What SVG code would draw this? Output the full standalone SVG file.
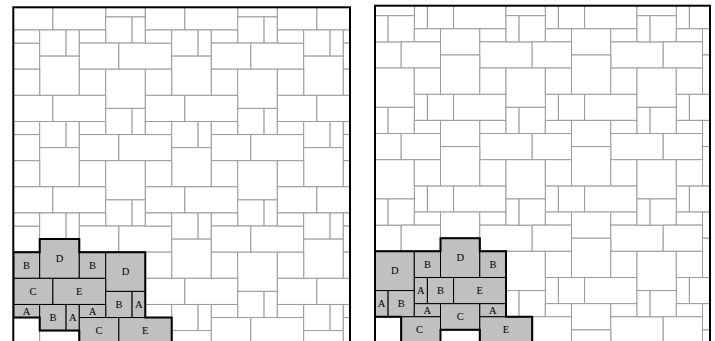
<svg xmlns="http://www.w3.org/2000/svg" xmlns:xlink="http://www.w3.org/1999/xlink" width="715" height="341" viewBox="0 0 715 341">
<style>
.t{fill:#fff;stroke:#9a9a9a;stroke-width:1;vector-effect:non-scaling-stroke}
.h{fill:#c0c0c0;stroke:#000;stroke-width:1;vector-effect:non-scaling-stroke}
.o{fill:none;stroke:#000;stroke-width:2;vector-effect:non-scaling-stroke}
.frame{fill:none;stroke:#000;stroke-width:2}
text{font-family:"Liberation Serif","Times New Roman",serif;font-size:10.5px;text-anchor:middle;fill:#000}
</style>
<defs>
<clipPath id="clipL"><rect x="13.3" y="7.3" width="336.7" height="345"/></clipPath>
<clipPath id="clipR"><rect x="375" y="5.7" width="335" height="345"/></clipPath>
<g id="cellL">
<rect class="t" x="0" y="0" width="2" height="1"/>
<rect class="t" x="2" y="0" width="2" height="2"/>
<rect class="t" x="4" y="0" width="1" height="2"/>
<rect class="t" x="5" y="0" width="2" height="1"/>
<rect class="t" x="2" y="2" width="3" height="3"/>
<rect class="t" x="5" y="1" width="3" height="2"/>
<rect class="t" x="8" y="1" width="4" height="2"/>
<rect class="t" x="0" y="3" width="2" height="2"/>
<rect class="t" x="5" y="3" width="2" height="2"/>
<rect class="t" x="7" y="3" width="3" height="3"/>
<rect class="t" x="0" y="5" width="3" height="2"/>
<rect class="t" x="3" y="5" width="4" height="2"/>
<rect class="t" x="7" y="6" width="2" height="2"/>
<rect class="t" x="9" y="6" width="1" height="2"/>
</g>
<g id="cellR">
<rect class="t" x="0" y="0" width="1" height="2"/>
<rect class="t" x="1" y="0" width="2" height="2"/>
<rect class="t" x="3" y="6" width="1" height="2"/>
<rect class="t" x="4" y="6" width="2" height="2"/>
<rect class="t" x="6" y="6" width="4" height="2"/>
<rect class="t" x="3" y="1" width="2" height="1"/>
<rect class="t" x="5" y="1" width="3" height="2"/>
<rect class="t" x="8" y="1" width="2" height="1"/>
<rect class="t" x="8" y="2" width="4" height="2"/>
<rect class="t" x="2" y="2" width="3" height="2"/>
<rect class="t" x="0" y="4" width="3" height="3"/>
<rect class="t" x="3" y="4" width="2" height="2"/>
<rect class="t" x="5" y="3" width="3" height="3"/>
<rect class="t" x="8" y="4" width="2" height="2"/>
</g>
</defs>
<rect x="0" y="0" width="715" height="341" fill="#fff"/>

<g id="left-panel">
<g clip-path="url(#clipL)">
<g transform="translate(13.3 30) scale(13.2 13.07)">
<use href="#cellL" x="-10" y="-7"/><use href="#cellL" x="0" y="-7"/><use href="#cellL" x="10" y="-7"/><use href="#cellL" x="20" y="-7"/>
<use href="#cellL" x="-10" y="0"/><use href="#cellL" x="0" y="0"/><use href="#cellL" x="10" y="0"/><use href="#cellL" x="20" y="0"/>
<use href="#cellL" x="-10" y="7"/><use href="#cellL" x="0" y="7"/><use href="#cellL" x="10" y="7"/><use href="#cellL" x="20" y="7"/>
<use href="#cellL" x="-10" y="14"/><use href="#cellL" x="0" y="14"/><use href="#cellL" x="10" y="14"/><use href="#cellL" x="20" y="14"/>
<use href="#cellL" x="-10" y="21"/><use href="#cellL" x="0" y="21"/><use href="#cellL" x="10" y="21"/><use href="#cellL" x="20" y="21"/>
<g id="left-cluster">
<rect class="h" x="0" y="17" width="2" height="2"/>
<rect class="h" x="2" y="16" width="3" height="3"/>
<rect class="h" x="5" y="17" width="2" height="2"/>
<rect class="h" x="7" y="17" width="3" height="3"/>
<rect class="h" x="0" y="19" width="3" height="2"/>
<rect class="h" x="3" y="19" width="4" height="2"/>
<rect class="h" x="7" y="20" width="2" height="2"/>
<rect class="h" x="9" y="20" width="1" height="2"/>
<rect class="h" x="0" y="21" width="2" height="1"/>
<rect class="h" x="2" y="21" width="2" height="2"/>
<rect class="h" x="4" y="21" width="1" height="2"/>
<rect class="h" x="5" y="21" width="2" height="1"/>
<rect class="h" x="5" y="22" width="3" height="2"/>
<rect class="h" x="8" y="22" width="4" height="2"/>
<polygon class="o" points="0,17 2,17 2,16 5,16 5,17 10,17 10,22 12,22 12,24 5,24 5,23 2,23 2,22 0,22"/>
</g>
</g>
</g>
<rect class="frame" x="13.3" y="7.3" width="336.7" height="345"/>
<g id="left-labels">
<text x="26.5" y="268.8">B</text>
<text x="59.5" y="262.2">D</text>
<text x="92.5" y="268.8">B</text>
<text x="125.5" y="275.3">D</text>
<text x="33.1" y="294.9">C</text>
<text x="79.3" y="294.9">E</text>
<text x="118.9" y="308">B</text>
<text x="138.7" y="308">A</text>
<text x="26.5" y="314.5">A</text>
<text x="52.9" y="321">B</text>
<text x="72.7" y="321">A</text>
<text x="92.5" y="314.5">A</text>
<text x="99.1" y="334.1">C</text>
<text x="145.3" y="334.1">E</text>
</g>
</g>

<g id="right-panel">
<g clip-path="url(#clipR)">
<g transform="translate(375 15.7) scale(13.1 13.09)">
<use href="#cellR" x="-10" y="-7"/><use href="#cellR" x="0" y="-7"/><use href="#cellR" x="10" y="-7"/><use href="#cellR" x="20" y="-7"/>
<use href="#cellR" x="-10" y="0"/><use href="#cellR" x="0" y="0"/><use href="#cellR" x="10" y="0"/><use href="#cellR" x="20" y="0"/>
<use href="#cellR" x="-10" y="7"/><use href="#cellR" x="0" y="7"/><use href="#cellR" x="10" y="7"/><use href="#cellR" x="20" y="7"/>
<use href="#cellR" x="-10" y="14"/><use href="#cellR" x="0" y="14"/><use href="#cellR" x="10" y="14"/><use href="#cellR" x="20" y="14"/>
<use href="#cellR" x="-10" y="21"/><use href="#cellR" x="0" y="21"/><use href="#cellR" x="10" y="21"/><use href="#cellR" x="20" y="21"/>
<g id="right-cluster">
<rect class="h" x="0" y="18" width="3" height="3"/>
<rect class="h" x="3" y="18" width="2" height="2"/>
<rect class="h" x="5" y="17" width="3" height="3"/>
<rect class="h" x="8" y="18" width="2" height="2"/>
<rect class="h" x="0" y="21" width="1" height="2"/>
<rect class="h" x="1" y="21" width="2" height="2"/>
<rect class="h" x="3" y="20" width="1" height="2"/>
<rect class="h" x="4" y="20" width="2" height="2"/>
<rect class="h" x="6" y="20" width="4" height="2"/>
<rect class="h" x="3" y="22" width="2" height="1"/>
<rect class="h" x="5" y="22" width="3" height="2"/>
<rect class="h" x="8" y="22" width="2" height="1"/>
<rect class="h" x="2" y="23" width="3" height="2"/>
<rect class="h" x="8" y="23" width="4" height="2"/>
<polygon class="o" points="0,18 5,18 5,17 8,17 8,18 10,18 10,23 12,23 12,25 8,25 8,24 5,24 5,25 2,25 2,23 0,23"/>
</g>
</g>
</g>
<rect class="frame" x="375" y="5.7" width="335" height="345"/>
<g id="right-labels">
<text x="394.7" y="274.4">D</text>
<text x="427.4" y="267.9">B</text>
<text x="460.2" y="261.4">D</text>
<text x="492.9" y="267.9">B</text>
<text x="381.6" y="307.2">A</text>
<text x="401.2" y="307.2">B</text>
<text x="420.9" y="294.1">A</text>
<text x="440.5" y="294.1">B</text>
<text x="479.8" y="294.1">E</text>
<text x="427.4" y="313.7">A</text>
<text x="460.2" y="320.3">C</text>
<text x="492.9" y="313.7">A</text>
<text x="419.5" y="333.4">C</text>
<text x="506" y="333.4">E</text>
</g>
</g>
</svg>
